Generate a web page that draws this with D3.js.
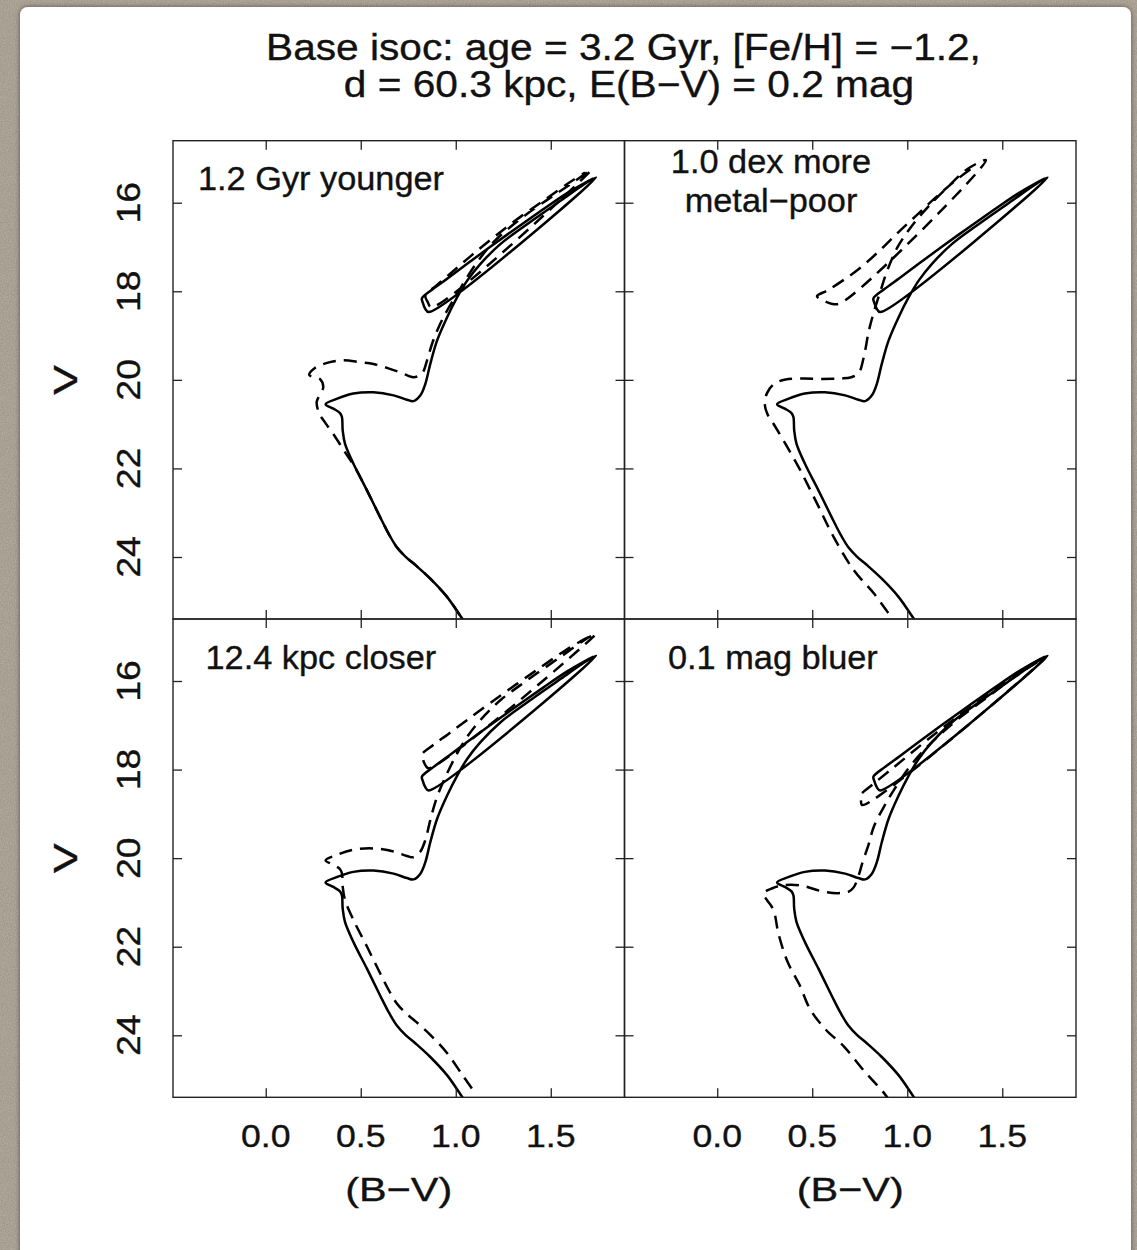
<!DOCTYPE html>
<html>
<head>
<meta charset="utf-8">
<title>Isochrone comparison</title>
<script src="https://cdn.jsdelivr.net/npm/d3@7"></script>
<style>
  html, body { margin: 0; padding: 0; background: #b5ab9c; }
  svg { display: block; }
  text { font-family: "Liberation Sans", Arial, Helvetica, sans-serif; fill: #111; stroke: #111; stroke-width: 0.35px; }
</style>
</head>
<body>
<svg id="chart" width="1137" height="1250"></svg>
<script>
// ---- data: [ (B-V), V ] ----

// base isochrone (solid, same in every panel): MS -> SGB -> RGB tip -> HB -> AGB
const baseIsoc = [
  [1.085, 25.70], [1.034, 25.39], [0.954, 24.90], [0.866, 24.49], [0.790, 24.19],
  [0.735, 23.99], [0.690, 23.78], [0.650, 23.50], [0.602, 23.10], [0.532, 22.49],
  [0.461, 21.89], [0.417, 21.44], [0.405, 21.14], [0.401, 20.84], [0.391, 20.75],
  [0.356, 20.65], [0.315, 20.55], [0.373, 20.43], [0.461, 20.31], [0.567, 20.28],
  [0.673, 20.35], [0.743, 20.45], [0.778, 20.48], [0.814, 20.35], [0.840, 20.09],
  [0.866, 19.64], [0.902, 19.11], [0.954, 18.59], [1.007, 18.14], [1.060, 17.76],
  [1.130, 17.38], [1.236, 16.93], [1.377, 16.48], [1.553, 15.95], [1.676, 15.58],
  [1.738, 15.43],
  [0.857, 18.47], [0.840, 18.40], [0.826, 18.25], [0.822, 18.16], [0.880, 17.95],
  [0.960, 17.70], [1.060, 17.38], [1.180, 17.00], [1.320, 16.57], [1.460, 16.15],
  [1.580, 15.80], [1.680, 15.55], [1.725, 15.45]
];

// dashed: 1.2 Gyr younger
const youngerIsoc = [
  [1.085, 25.70], [1.034, 25.39], [0.954, 24.90], [0.866, 24.49], [0.790, 24.19],
  [0.735, 23.99], [0.690, 23.78], [0.650, 23.50], [0.602, 23.10], [0.532, 22.49],
  [0.462, 21.92], [0.415, 21.62], [0.360, 21.25], [0.310, 20.95], [0.282, 20.76],
  [0.268, 20.50], [0.290, 20.30], [0.303, 20.16], [0.285, 19.98], [0.229, 19.89],
  [0.259, 19.73], [0.338, 19.60], [0.408, 19.56], [0.497, 19.60], [0.567, 19.64],
  [0.638, 19.73], [0.708, 19.83], [0.778, 19.94], [0.822, 19.86], [0.849, 19.56],
  [0.875, 19.19], [0.910, 18.81], [0.954, 18.44], [1.007, 18.06], [1.060, 17.68],
  [1.125, 17.27], [1.201, 16.88], [1.342, 16.36], [1.483, 15.93], [1.615, 15.55],
  [1.712, 15.26],
  [0.872, 18.36], [0.852, 18.24], [0.840, 18.10], [0.900, 17.86], [0.980, 17.57],
  [1.080, 17.20], [1.200, 16.78], [1.340, 16.32], [1.480, 15.90], [1.600, 15.54],
  [1.680, 15.32]
];

// dashed: 1.0 dex more metal-poor
const metalPoorIsoc = [
  [0.965, 25.65], [0.921, 25.39], [0.824, 24.82], [0.719, 24.30], [0.613, 23.55],
  [0.525, 22.79], [0.437, 22.04], [0.349, 21.37], [0.300, 21.02], [0.265, 20.78],
  [0.250, 20.55], [0.262, 20.30], [0.300, 20.09], [0.360, 19.99], [0.450, 19.97],
  [0.550, 19.98], [0.650, 19.97], [0.705, 19.94], [0.745, 19.84], [0.771, 19.49],
  [0.798, 18.89], [0.824, 18.47], [0.860, 17.98], [0.895, 17.53], [0.948, 17.01],
  [1.018, 16.56], [1.106, 16.11], [1.212, 15.65], [1.317, 15.24], [1.414, 15.04],
  [0.648, 18.27], [0.600, 18.28], [0.555, 18.20], [0.525, 18.11], [0.580, 17.98],
  [0.660, 17.76], [0.750, 17.48], [0.850, 17.10], [0.950, 16.68], [1.050, 16.28],
  [1.150, 15.88], [1.260, 15.48], [1.360, 15.16]
];

// dashed: 12.4 kpc closer
const closerIsoc = [
  [1.085, 25.20], [1.034, 24.89], [0.954, 24.40], [0.866, 23.99], [0.790, 23.69],
  [0.735, 23.49], [0.690, 23.28], [0.650, 23.00], [0.602, 22.60], [0.532, 21.99],
  [0.461, 21.39], [0.417, 20.94], [0.405, 20.64], [0.401, 20.34], [0.391, 20.25],
  [0.356, 20.15], [0.315, 20.05], [0.373, 19.93], [0.461, 19.81], [0.567, 19.78],
  [0.673, 19.85], [0.743, 19.95], [0.778, 19.98], [0.814, 19.85], [0.840, 19.59],
  [0.866, 19.14], [0.902, 18.61], [0.954, 18.09], [1.007, 17.64], [1.060, 17.26],
  [1.130, 16.88], [1.236, 16.43], [1.377, 15.98], [1.553, 15.45], [1.676, 15.08],
  [1.738, 14.93],
  [0.857, 17.97], [0.840, 17.90], [0.826, 17.75], [0.822, 17.66], [0.880, 17.45],
  [0.960, 17.20], [1.060, 16.88], [1.180, 16.50], [1.320, 16.07], [1.460, 15.65],
  [1.580, 15.30], [1.680, 15.05], [1.725, 14.95]
];

// dashed: 0.1 mag bluer
const bluerIsoc = [
  [0.910, 25.50], [0.877, 25.30], [0.768, 24.78], [0.666, 24.25], [0.573, 23.88],
  [0.490, 23.42], [0.433, 22.86], [0.370, 22.34], [0.322, 21.70], [0.296, 21.17],
  [0.261, 20.94], [0.243, 20.80], [0.290, 20.68], [0.349, 20.61], [0.446, 20.62],
  [0.543, 20.74], [0.631, 20.79], [0.690, 20.76], [0.718, 20.66], [0.745, 20.38],
  [0.763, 20.12], [0.798, 19.67], [0.824, 19.29], [0.877, 18.84], [0.930, 18.46],
  [1.000, 18.01], [1.071, 17.64], [1.159, 17.26], [1.282, 16.81], [1.423, 16.36],
  [1.564, 15.91], [1.687, 15.57], [1.731, 15.46],
  [0.763, 18.80], [0.756, 18.68], [0.754, 18.58], [0.820, 18.33], [0.900, 18.05],
  [1.000, 17.70], [1.120, 17.28], [1.260, 16.82], [1.400, 16.38], [1.540, 15.95],
  [1.650, 15.63], [1.710, 15.49]
];

const panelLabels = [["1.2 Gyr younger"], ["1.0 dex more", "metal\u2212poor"], ["12.4 kpc closer"], ["0.1 mag bluer"]];
const colorTicks = [0, 0.5, 1.0, 1.5];
const magTicks = [16, 18, 20, 22, 24];
const titleLines = ["Base isoc: age = 3.2 Gyr, [Fe/H] = \u22121.2,", "d = 60.3 kpc, E(B\u2212V) = 0.2 mag"];
const xTitle = "(B\u2212V)";
const yTitle = "V";

// ---- layout ----
const colorRange = [-0.488, 1.888];   // R default 4% padding round [-0.4, 1.8]
const magRange = [14.6, 25.4];        // reversed magnitude axis
const panelW = 451.5, panelH = 478.3;
const panelLeft = [173, 624.5], panelTop = [140.7, 619];
const tickLen = 9;

const panels = [
  { col: 0, row: 0, dashed: youngerIsoc, label: panelLabels[0], at: [25, 49.3], anchor: "start" },
  { col: 1, row: 0, dashed: metalPoorIsoc, label: panelLabels[1], at: [146.5, 32.6], anchor: "middle" },
  { col: 0, row: 1, dashed: closerIsoc, label: panelLabels[2], at: [32.5, 50.3], anchor: "start" },
  { col: 1, row: 1, dashed: bluerIsoc, label: panelLabels[3], at: [43.5, 50.3], anchor: "start" }
];

const svg = d3.select("#chart");
const defs = svg.append("defs");

// textured backdrop + white card
const grain = defs.append("filter").attr("id", "grain").attr("x", 0).attr("y", 0).attr("width", 1).attr("height", 1);
grain.append("feTurbulence").attr("type", "fractalNoise").attr("baseFrequency", 0.85).attr("numOctaves", 2).attr("seed", 4);
grain.append("feColorMatrix").attr("type", "matrix")
  .attr("values", "0 0 0 0 0.25  0 0 0 0 0.23  0 0 0 0 0.2  0 0 0 -0.9 0.75");

const shadow = defs.append("filter").attr("id", "cardShadow").attr("x", -0.05).attr("y", -0.05).attr("width", 1.1).attr("height", 1.1);
shadow.append("feDropShadow").attr("dx", 0).attr("dy", 0).attr("stdDeviation", 2.5)
  .attr("flood-color", "#000").attr("flood-opacity", 0.5);

svg.append("rect").attr("width", 1137).attr("height", 1250).attr("fill", "#b7ad9e");
svg.append("rect").attr("width", 1137).attr("height", 1250).attr("filter", "url(#grain)");
svg.append("rect").attr("x", 20).attr("y", 7).attr("width", 1111).attr("height", 1290)
  .attr("rx", 8).attr("fill", "#fff").attr("filter", "url(#cardShadow)");

// text with a horizontal stretch, to mimic the wide face of the original
function label(parent, x, y, str, size, sx, anchor, angle) {
  return parent.append("text")
    .attr("transform", `translate(${x},${y}) rotate(${angle || 0}) scale(${sx},1)`)
    .attr("text-anchor", anchor)
    .style("font-size", size + "px")
    .text(str);
}

// title
label(svg, 623.5, 59.5, titleLines[0], 36.3, 1.12, "middle");
label(svg, 629, 96.5, titleLines[1], 36.3, 1.12, "middle");

function styleTicks(g) {
  g.select(".domain").remove();
  g.selectAll(".tick line").attr("stroke", "#222").attr("stroke-width", 1.3);
}

panels.forEach((p, i) => {
  const left = panelLeft[p.col], top = panelTop[p.row];
  const x = d3.scaleLinear().domain(colorRange).range([left, left + panelW]);
  const y = d3.scaleLinear().domain(magRange).range([top, top + panelH]);
  const g = svg.append("g").attr("class", "panel");

  defs.append("clipPath").attr("id", "clip" + i)
    .append("rect").attr("x", left).attr("y", top).attr("width", panelW).attr("height", panelH);

  const line = d3.line()
    .x(d => x(d[0]))
    .y(d => y(d[1]))
    .curve(d3.curveCatmullRom.alpha(0.5));

  const curves = g.append("g").attr("clip-path", `url(#clip${i})`)
    .attr("fill", "none").attr("stroke", "#000").attr("stroke-width", 2.5)
    .attr("stroke-linejoin", "round");
  curves.append("path").datum(p.dashed).attr("d", line).attr("stroke-dasharray", "13,8");
  curves.append("path").datum(baseIsoc).attr("d", line);

  // inward ticks on all four sides
  g.append("g").attr("transform", `translate(0,${top + panelH})`)
    .call(d3.axisBottom(x).tickValues(colorTicks).tickSize(-tickLen).tickFormat("")).call(styleTicks);
  g.append("g").attr("transform", `translate(0,${top})`)
    .call(d3.axisTop(x).tickValues(colorTicks).tickSize(-tickLen).tickFormat("")).call(styleTicks);
  g.append("g").attr("transform", `translate(${left},0)`)
    .call(d3.axisLeft(y).tickValues(magTicks).tickSize(-tickLen).tickFormat("")).call(styleTicks);
  g.append("g").attr("transform", `translate(${left + panelW},0)`)
    .call(d3.axisRight(y).tickValues(magTicks).tickSize(-tickLen).tickFormat("")).call(styleTicks);

  g.append("rect").attr("x", left).attr("y", top).attr("width", panelW).attr("height", panelH)
    .attr("fill", "none").attr("stroke", "#222").attr("stroke-width", 1.4);

  // panel annotation
  p.label.forEach((s, k) => {
    label(g, left + p.at[0], top + p.at[1] + k * 38.4, s, 33, 1.04, p.anchor);
  });

  // outer tick labels and axis titles
  if (p.row === 1) {
    colorTicks.forEach(t => label(g, x(t), 1147, d3.format(".1f")(t), 31, 1.15, "middle"));
    label(g, left + panelW / 2, 1201, xTitle, 34, 1.22, "middle");
  }
  if (p.col === 0) {
    magTicks.forEach(t => label(g, 140, y(t), String(t), 32.5, 1.15, "middle", -90));
    label(g, 77, top + panelH / 2, yTitle, 33, 1.35, "middle", -90);
  }
});
</script>
</body>
</html>
